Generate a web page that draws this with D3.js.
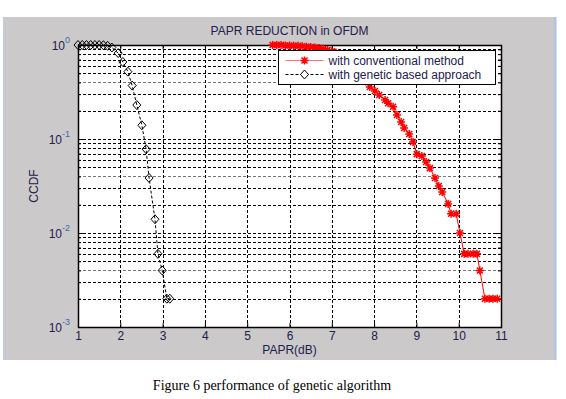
<!DOCTYPE html>
<html>
<head>
<meta charset="utf-8">
<script src="https://cdn.jsdelivr.net/npm/d3@7"></script>
<style>
  body { margin: 0; background: #fff; }
  svg { display: block; }
</style>
</head>
<body>
<div id="chart"></div>
<script>
// conventional method (red stars)
const convX = [5.6, 5.7, 5.8, 5.9, 6.0, 6.1, 6.2, 6.3, 6.4, 6.5, 6.6, 6.7,
  6.8, 6.9, 7.0, 7.1, 7.2, 7.3, 7.4, 7.5, 7.6, 7.7, 7.8,
  7.9, 8.02, 8.12, 8.26, 8.33, 8.45, 8.54, 8.64, 8.71, 8.83, 8.92, 9.01, 9.13,
  9.23, 9.32, 9.44, 9.53, 9.61, 9.75, 9.82, 9.94, 10.03, 10.13, 10.22, 10.34,
  10.43, 10.5, 10.62, 10.72, 10.81, 10.91];
const convY = [1, 1, 1, 0.99, 0.99, 0.98, 0.98, 0.97, 0.96, 0.95, 0.94, 0.93,
  0.91, 0.89, 0.86, 0.83, 0.79, 0.74, 0.68, 0.62, 0.55, 0.48, 0.41,
  0.357, 0.324, 0.294, 0.26, 0.24, 0.22, 0.18, 0.152, 0.131, 0.113, 0.093, 0.069, 0.066,
  0.057, 0.049, 0.0385, 0.0316, 0.0273, 0.0204, 0.016, 0.016, 0.010, 0.006, 0.006, 0.006,
  0.006, 0.004, 0.002, 0.002, 0.002, 0.002];

// genetic based approach (black diamonds)
const genX = [1.0, 1.1, 1.2, 1.3, 1.4, 1.5, 1.6, 1.7, 1.8, 1.95, 2.06, 2.18, 2.28,
  2.39, 2.51, 2.61, 2.68, 2.82, 2.89, 2.99, 3.1, 3.17];
const genY = [1, 1, 1, 1, 1, 1, 0.995, 0.98, 0.94, 0.82, 0.66, 0.52, 0.37,
  0.23, 0.14, 0.078, 0.0385, 0.014, 0.006, 0.004, 0.002, 0.002];

const xTicks = [1, 2, 3, 4, 5, 6, 7, 8, 9, 10, 11];
const yDecades = [-3, -2, -1, 0];

const W = 566, H = 399;
const margin = {top: 45, right: 65, bottom: 72, left: 78};
const plotW = 501 - margin.left;
const plotH = 327 - margin.top;

const svg = d3.select('#chart').append('svg')
  .attr('width', W)
  .attr('height', H);

// grey figure window
svg.append('rect')
  .attr('x', 3).attr('y', 17)
  .attr('width', 552).attr('height', 343)
  .attr('fill', '#cbc9c9');
svg.append('line')
  .attr('x1', 555.5).attr('x2', 555.5).attr('y1', 17).attr('y2', 360)
  .attr('stroke', '#a8c4e8').attr('stroke-width', 2);
svg.append('line')
  .attr('x1', 3.5).attr('x2', 3.5).attr('y1', 17).attr('y2', 360)
  .attr('stroke', '#b8cce8').attr('stroke-width', 1);

const g = svg.append('g')
  .attr('transform', `translate(${margin.left}, ${margin.top})`);

const x = d3.scaleLinear().domain([1, 11]).range([0, plotW]);
const y = d3.scaleLog().domain([1e-3, 1]).range([plotH, 0]);

g.append('rect')
  .attr('width', plotW).attr('height', plotH)
  .attr('fill', '#fff');

// grid lines
const minorVals = [];
for (let k = -3; k < 0; k++) {
  for (let m = 1; m <= 9; m++) minorVals.push(m * Math.pow(10, k));
}
const grid = g.append('g').attr('class', 'grid');
grid.selectAll('.hgrid')
  .data(minorVals.filter(v => v > 1e-3))
  .enter().append('line')
  .attr('class', 'hgrid')
  .attr('x1', 0).attr('x2', plotW)
  .attr('y1', d => Math.round(y(d)) + 0.5)
  .attr('y2', d => Math.round(y(d)) + 0.5)
  .attr('stroke', (d, i) => (i % 9 === 2 ? '#777' : '#000'))
  .attr('stroke-width', 1)
  .attr('stroke-dasharray', '3,2');
grid.selectAll('.vgrid')
  .data(xTicks.slice(1, -1))
  .enter().append('line')
  .attr('class', 'vgrid')
  .attr('x1', d => Math.round(x(d)) + 0.5)
  .attr('x2', d => Math.round(x(d)) + 0.5)
  .attr('y1', 0).attr('y2', plotH)
  .attr('stroke', '#000')
  .attr('stroke-dasharray', '3,2');

// axes: inward ticks on all sides
const tickFont = '12px "Liberation Sans", Arial, sans-serif';
const xAxisB = g.append('g')
  .attr('transform', `translate(0, ${plotH})`)
  .call(d3.axisBottom(x).tickValues(xTicks).tickSize(-4).tickPadding(4).tickFormat(d3.format('d')));
const xAxisT = g.append('g')
  .call(d3.axisTop(x).tickValues(xTicks).tickSize(-4).tickFormat(''));
const yAxisL = g.append('g')
  .call(d3.axisLeft(y).tickValues(minorVals.concat([1])).tickSize(-3).tickFormat(''));
const yAxisR = g.append('g')
  .attr('transform', `translate(${plotW}, 0)`)
  .call(d3.axisRight(y).tickValues(minorVals.concat([1])).tickSize(-3).tickFormat(''));
[xAxisB, xAxisT, yAxisL, yAxisR].forEach(a => {
  a.select('.domain').remove();
  a.selectAll('line').attr('stroke', '#000');
});
xAxisB.selectAll('text')
  .style('font', tickFont)
  .attr('fill', '#24204a');
// major y ticks slightly longer
yAxisL.selectAll('.tick')
  .filter(d => Math.abs(Math.log10(d) - Math.round(Math.log10(d))) < 1e-9)
  .select('line').attr('x2', 5);
yAxisR.selectAll('.tick')
  .filter(d => Math.abs(Math.log10(d) - Math.round(Math.log10(d))) < 1e-9)
  .select('line').attr('x2', -5);

// y labels 10^k
const yLab = g.append('g').attr('class', 'ylabels');
yDecades.forEach(k => {
  const t = yLab.append('text')
    .attr('x', -8)
    .attr('y', y(Math.pow(10, k)) + 5)
    .attr('text-anchor', 'end')
    .attr('fill', '#24204a')
    .style('font', tickFont);
  t.append('tspan').text('10');
  t.append('tspan')
    .attr('dy', -7)
    .style('font-size', '9px')
    .attr('fill', '#3a6ab0')
    .text(String(k));
});

// frame
g.append('rect')
  .attr('x', 0.5).attr('y', 0.5)
  .attr('width', plotW).attr('height', plotH)
  .attr('fill', 'none')
  .attr('stroke', '#000')
  .attr('stroke-width', 1.5);

// series
const convData = convX.map((v, i) => [v, convY[i]]);
const genData = genX.map((v, i) => [v, genY[i]]);
const line = d3.line()
  .x(d => x(d[0]))
  .y(d => y(d[1]));

g.append('path')
  .datum(genData)
  .attr('d', line)
  .attr('fill', 'none')
  .attr('stroke', '#000')
  .attr('stroke-width', 1)
  .attr('stroke-dasharray', '3,2');
g.selectAll('.diamond')
  .data(genData)
  .enter().append('path')
  .attr('class', 'diamond')
  .attr('transform', d => `translate(${x(d[0])}, ${y(d[1])})`)
  .attr('d', 'M0,-4.5L4,0L0,4.5L-4,0Z')
  .attr('fill', 'none')
  .attr('stroke', '#000')
  .attr('stroke-width', 1);

const star = 'M-4,0H4M0,-4V4M-3,-3L3,3M-3,3L3,-3';
g.append('path')
  .datum(convData)
  .attr('d', line)
  .attr('fill', 'none')
  .attr('stroke', '#ff0000')
  .attr('stroke-width', 1);
g.selectAll('.star')
  .data(convData)
  .enter().append('path')
  .attr('class', 'star')
  .attr('transform', d => `translate(${x(d[0])}, ${y(d[1])})`)
  .attr('d', star)
  .attr('stroke', '#ff0000')
  .attr('stroke-width', 1.5);

// legend
const legend = svg.append('g')
  .attr('transform', 'translate(278.5, 50.5)');
legend.append('rect')
  .attr('width', 217).attr('height', 34)
  .attr('fill', '#fff')
  .attr('stroke', '#000')
  .attr('stroke-width', 1);
const legFont = '12px "Liberation Sans", Arial, sans-serif';
legend.append('line')
  .attr('x1', 7).attr('x2', 45).attr('y1', 10).attr('y2', 10)
  .attr('stroke', '#ff7070').attr('stroke-width', 1);
legend.append('path')
  .attr('transform', 'translate(26, 10)')
  .attr('d', star)
  .attr('stroke', '#ff0000').attr('stroke-width', 1.5);
legend.append('text')
  .attr('x', 50).attr('y', 14)
  .attr('fill', '#24204a')
  .style('font', legFont)
  .text('with conventional method');
legend.append('line')
  .attr('x1', 7).attr('x2', 45).attr('y1', 24).attr('y2', 24)
  .attr('stroke', '#000').attr('stroke-dasharray', '3,2');
legend.append('path')
  .attr('transform', 'translate(26, 24)')
  .attr('d', 'M0,-4.5L4,0L0,4.5L-4,0Z')
  .attr('fill', '#fff')
  .attr('stroke', '#000');
legend.append('text')
  .attr('x', 50).attr('y', 28)
  .attr('fill', '#24204a')
  .style('font', legFont)
  .text('with genetic based approach');

// titles
svg.append('text')
  .attr('x', margin.left + plotW / 2)
  .attr('y', 35)
  .attr('text-anchor', 'middle')
  .attr('fill', '#24204a')
  .style('font', legFont)
  .text('PAPR REDUCTION in OFDM');
svg.append('text')
  .attr('x', margin.left + plotW / 2)
  .attr('y', 354)
  .attr('text-anchor', 'middle')
  .attr('fill', '#24204a')
  .style('font', legFont)
  .text('PAPR(dB)');
svg.append('text')
  .attr('transform', `translate(38, 186) rotate(-90)`)
  .attr('text-anchor', 'middle')
  .attr('fill', '#24204a')
  .style('font', legFont)
  .text('CCDF');

// caption
svg.append('text')
  .attr('x', 272)
  .attr('y', 390)
  .attr('text-anchor', 'middle')
  .attr('fill', '#000')
  .style('font', '14px "Liberation Serif", "Times New Roman", serif')
  .text('Figure 6 performance of genetic algorithm');
</script>
</body>
</html>
